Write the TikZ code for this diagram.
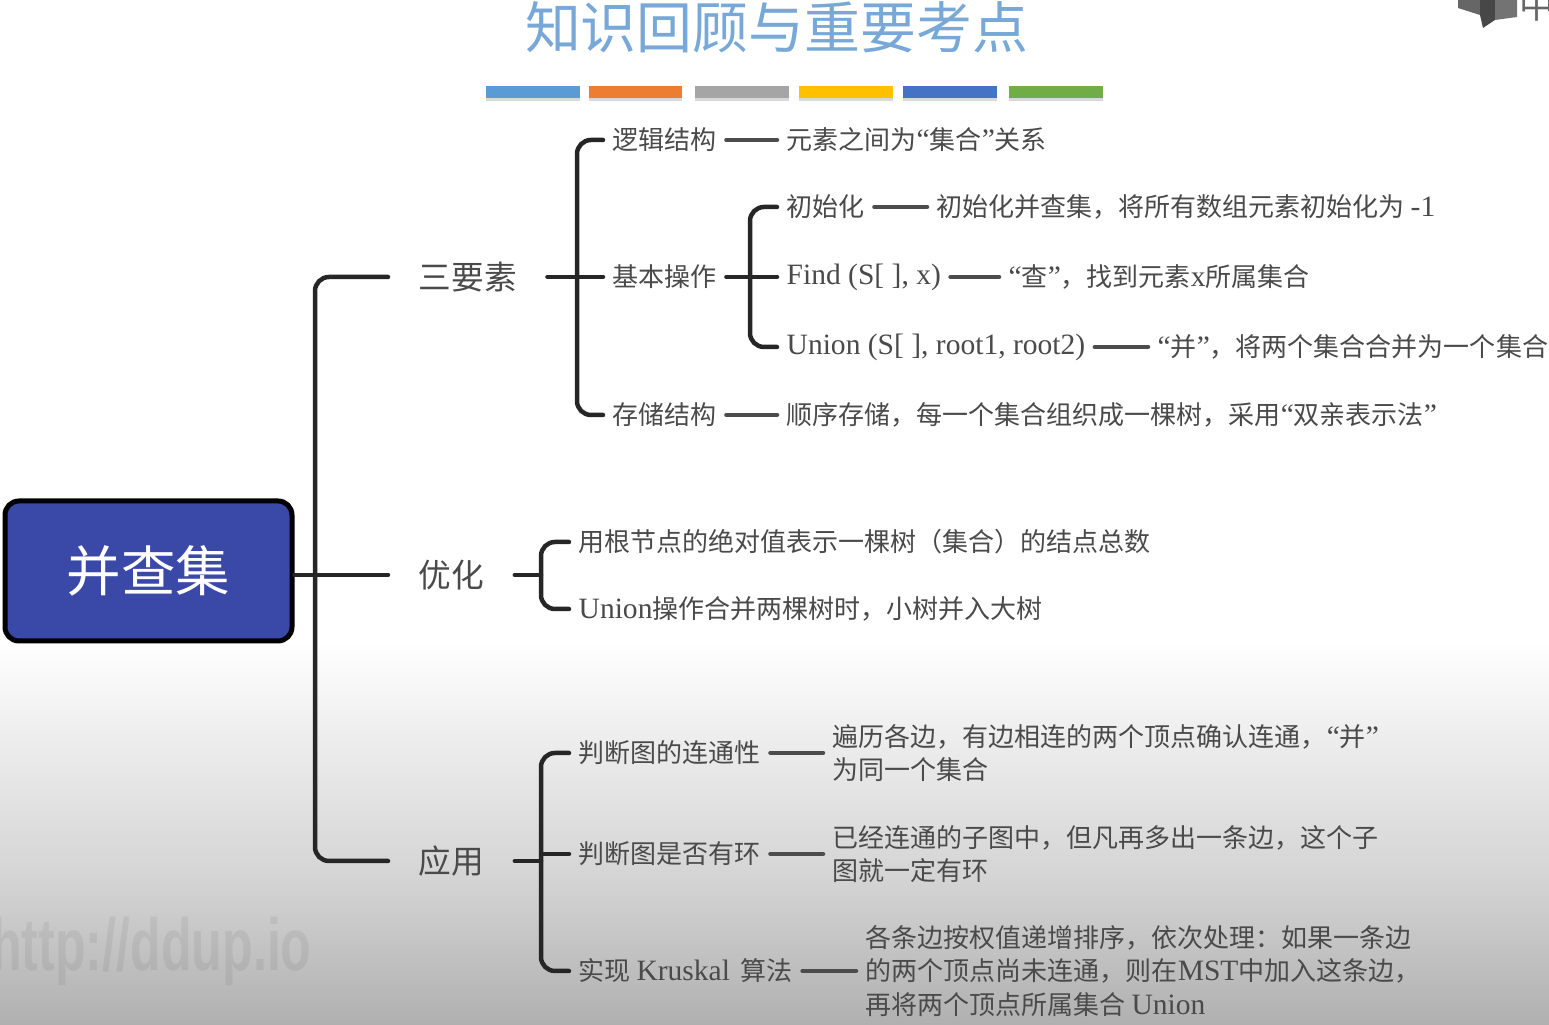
\documentclass[tikz,border=0pt]{standalone}
\usepackage{fontspec}
\usepackage{xcolor}
\setmainfont{Noto Sans CJK SC}
\newfontfamily\latfont{Liberation Serif}
\newfontfamily\wmfont{Liberation Sans}
\newcommand{\lat}[1]{{\latfont\fontsize{8.4}{9.5}\selectfont #1}}
\definecolor{rootblue}{HTML}{3A48A8}
\definecolor{titleblue}{HTML}{78A8D8}
\definecolor{inkgray}{HTML}{4A4A4A}
\tikzset{
  rootbox/.style={draw=black,line width=.05cm,fill=rootblue,text=white,rounded corners=.14cm,
    minimum width=2.87cm,minimum height=1.4cm,font=\fontsize{15.5}{18}\selectfont},
  lvlone/.style={anchor=west,text=inkgray,inner xsep=.3cm,inner ysep=0pt,font=\fontsize{9.3}{11}\selectfont},
  lvltwo/.style={anchor=west,text=inkgray,inner xsep=.09cm,inner ysep=0pt,align=left,
    font=\fontsize{7.4}{9.5}\selectfont},
  link/.style={line width=.045cm,color=black!85,rounded corners=.14cm,line cap=round},
  dash link/.style={line width=.045cm,color=black!70,line cap=round},
}
\begin{document}
\begin{tikzpicture}
% \draw [help lines,color=green] (0,0) grid (15.49,10.25);
\useasboundingbox (0,0) rectangle (15.49,10.25);
\clip (0,0) rectangle (15.49,10.25);
\fill [white] (0,3.85) rectangle (15.49,10.25);
\fill [top color=white,bottom color=black!17,shading angle=0] (0,1.45) rectangle (15.49,3.85);
\fill [top color=black!17,bottom color=black!31] (0,0) rectangle (15.49,1.45);
% watermark
\node (wmark) [anchor=east,text=black,text opacity=.06,xscale=.68,transform shape,font=\wmfont\bfseries\fontsize{21}{24}\selectfont] at (3.20,.74) {http://ddup.io};
% corner mark
\fill [black!60] (14.58,10.25) -- (14.58,10.17) -- (14.80,10.10) -- (14.80,10.25) -- cycle;
\fill [black!72] (14.80,10.25) -- (14.80,10.10) -- (14.83,9.97) -- (14.95,10.05) -- (14.95,10.25) -- cycle;
\fill [black!55] (14.95,10.25) -- (14.95,10.05) -- (15.17,10.08) -- (15.17,10.25) -- cycle;
\node (mark) [inner sep=0pt,text=black!60,font=\fontsize{10}{11}\selectfont] at (15.37,10.20) {中};
% title
\node (title) [text=titleblue,inner sep=0pt,font=\fontsize{15.9}{18}\selectfont] at (7.765,9.98) {知识回顾与重要考点};
\foreach \xa/\xb/\barcol in {4.86/5.80/5B9BD5,5.89/6.82/ED7D31,6.95/7.89/A5A5A5,7.99/8.93/FFC000,9.03/9.97/4472C4,10.09/11.03/70AD47} {
  \definecolor{barcol}{HTML}{\barcol}
  \fill [black!15] (\xa,9.24) rectangle (\xb,9.36);
  \fill [barcol] (\xa,9.27) rectangle (\xb,9.39);
}
% root
\node (root) [rootbox] at (1.485,4.54) {并查集};
% first level
\node (sanyao) [lvlone] at (3.88,7.48) {三要素};
\node (youhua) [lvlone] at (3.88,4.50) {优化};
\node (yingyong) [lvlone] at (3.88,1.64) {应用};
\coordinate (jroot) at (3.15,4.50);
\draw [link] (sanyao.west) -| (jroot) |- (yingyong.west);
\draw [link] (root.east |- youhua.west) -- (youhua.west);
% three elements
\node (luoji) [lvltwo] at (6.03,8.85) {逻辑结构};
\node (jiben) [lvltwo] at (6.03,7.48) {基本操作};
\node (cunchu) [lvltwo] at (6.03,6.10) {存储结构};
\coordinate (jsan) at (5.77,7.48);
\draw [link] (luoji.west) -| (jsan) |- (cunchu.west);
\draw [link] (sanyao.east) -- (jiben.west);
\node (jihe) [lvltwo] at (7.77,8.85) {元素之间为\lat{“}集合\lat{”}关系};
\node (shunxu) [lvltwo] at (7.77,6.10) {顺序存储，每一个集合组织成一棵树，采用\lat{“}双亲表示法\lat{”}};
\draw [dash link] (luoji.east) -- (jihe.west);
\draw [dash link] (cunchu.east) -- (shunxu.west);
% basic operations
\node (chushi) [lvltwo] at (7.77,8.18) {初始化};
\node (find) [lvltwo] at (7.77,7.48) {\vphantom{基}\lat{Find (S[ ], x)}};
\node (union) [lvltwo] at (7.77,6.78) {\vphantom{基}\lat{Union (S[ ], root1, root2)}};
\coordinate (jji) at (7.50,7.48);
\draw [link] (chushi.west) -| (jji) |- (union.west);
\draw [link] (jiben.east) -- (find.west);
\node (chushitxt) [lvltwo] at (9.27,8.18) {初始化并查集，将所有数组元素初始化为 \lat{-1}};
\node (findtxt) [lvltwo] at (9.99,7.48) {\lat{“}查\lat{”}，找到元素\lat{x}所属集合};
\node (uniontxt) [lvltwo] at (11.48,6.78) {\lat{“}并\lat{”}，将两个集合合并为一个集合};
\draw [dash link] (chushi.east) -- (chushitxt.west);
\draw [dash link] (find.east) -- (findtxt.west);
\draw [dash link] (union.east) -- (uniontxt.west);
% optimisation
\node (jueduizhi) [lvltwo] at (5.69,4.83) {用根节点的绝对值表示一棵树（集合）的结点总数};
\node (xiaoshu) [lvltwo] at (5.69,4.16) {\lat{Union}操作合并两棵树时，小树并入大树};
\coordinate (jyou) at (5.41,4.50);
\draw [link] (jueduizhi.west) -| (jyou) |- (xiaoshu.west);
\draw [link] (youhua.east) -- (jyou);
% applications
\node (liantong) [lvltwo] at (5.69,2.72) {判断图的连通性};
\node (youhuan) [lvltwo] at (5.69,1.71) {判断图是否有环};
\node (kruskal) [lvltwo] at (5.69,.54) {实现 \lat{Kruskal} \hspace{.05cm}算法};
\coordinate (jying) at (5.41,1.64);
\draw [link] (liantong.west) -| (jying) |- (kruskal.west);
\draw [link] (yingyong.east) -- (jying);
\draw [link] (jying |- youhuan.west) -- (youhuan.west);
\node (liantongtxt) [lvltwo] at (8.23,2.72) {遍历各边，有边相连的两个顶点确认连通，\lat{“}并\lat{”}\\为同一个集合};
\node (youhuantxt) [lvltwo] at (8.23,1.71) {已经连通的子图中，但凡再多出一条边，这个子\\图就一定有环};
\node (kruskaltxt) [lvltwo] at (8.56,.54) {各条边按权值递增排序，依次处理：如果一条边\\的两个顶点尚未连通，则在\lat{MST}中加入这条边，\\再将两个顶点所属集合 \lat{Union}};
\draw [dash link] (liantong.east) -- (liantongtxt.west);
\draw [dash link] (youhuan.east) -- (youhuantxt.west);
\draw [dash link] (kruskal.east) -- (kruskaltxt.west);
\end{tikzpicture}
\end{document}
